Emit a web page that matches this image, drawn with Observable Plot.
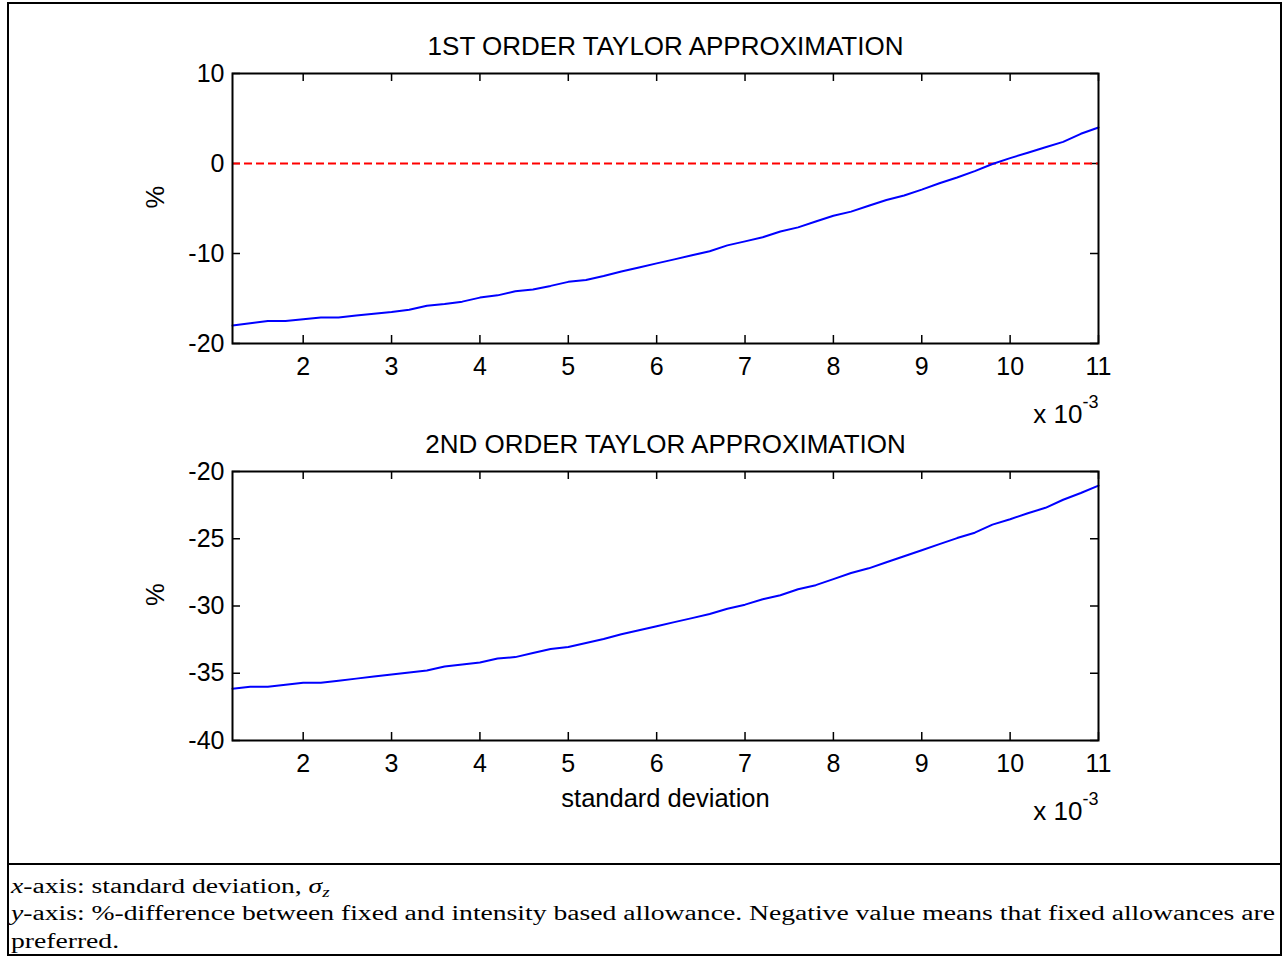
<!DOCTYPE html>
<html>
<head>
<meta charset="utf-8">
<script src="https://cdn.jsdelivr.net/npm/d3@7"></script>
<script src="https://cdn.jsdelivr.net/npm/@observablehq/plot@0.6"></script>
<style>
  body { margin: 0; background: #fff; }
  #page { position: relative; width: 1283px; height: 957px; overflow: hidden; background: #fff; }
  #border { position: absolute; left: 7px; top: 2px; width: 1275px; height: 954px; box-sizing: border-box; border: 2px solid #000; }
  #sep { position: absolute; left: 7px; top: 862.5px; width: 1275px; height: 2.5px; background: #000; }
  .panel { position: absolute; left: 0; }
  #caption { position: absolute; left: 10.5px; top: 872.5px; font-family: "Liberation Serif", "Times New Roman", serif; font-size: 20.5px; line-height: 27.5px; color: #000; transform-origin: 0 0; white-space: nowrap; }
  #caption i { font-style: italic; }
  #caption sub { font-size: 14px; vertical-align: -4px; line-height: 0; }
</style>
</head>
<body>
<div id="page">
  <div id="border"></div>
  <div id="sep"></div>
  <div id="top" class="panel" style="top:0px"></div>
  <div id="bottom" class="panel" style="top:430px"></div>
  <div id="caption">
    <div id="cap1"><i>x</i>-axis: standard deviation, <i>σ</i><sub><i>z</i></sub></div>
    <div id="cap2"><i>y</i>-axis: %-difference between fixed and intensity based allowance. Negative value means that fixed allowances are</div>
    <div id="cap3">preferred.</div>
  </div>
</div>
<script>
// standard deviation (x 10^-3)
const sigma = [1.2, 1.4, 1.6, 1.8, 2.0, 2.2, 2.4, 2.6, 2.8, 3.0,
               3.2, 3.4, 3.6, 3.8, 4.0, 4.2, 4.4, 4.6, 4.8, 5.0,
               5.2, 5.4, 5.6, 5.8, 6.0, 6.2, 6.4, 6.6, 6.8, 7.0,
               7.2, 7.4, 7.6, 7.8, 8.0, 8.2, 8.4, 8.6, 8.8, 9.0,
               9.2, 9.4, 9.6, 9.8, 10.0, 10.2, 10.4, 10.6, 10.8, 11.0];
// 1st order Taylor approximation, %
const firstOrder = [-18.0, -17.75, -17.5, -17.5, -17.3, -17.1, -17.1, -16.9, -16.7, -16.5,
                    -16.25, -15.8, -15.6, -15.35, -14.9, -14.65, -14.2, -14.0, -13.6, -13.15,
                    -12.95, -12.5, -12.0, -11.55, -11.1, -10.65, -10.2, -9.75, -9.1, -8.65,
                    -8.2, -7.55, -7.1, -6.45, -5.8, -5.35, -4.7, -4.05, -3.55, -2.9,
                    -2.2, -1.55, -0.85, -0.05, 0.6, 1.2, 1.8, 2.4, 3.3, 4.0];
// 2nd order Taylor approximation, %
const secondOrder = [-36.15, -36.0, -36.0, -35.85, -35.7, -35.7, -35.55, -35.4, -35.25, -35.1,
                     -34.95, -34.8, -34.5, -34.35, -34.2, -33.9, -33.8, -33.5, -33.2, -33.05,
                     -32.75, -32.45, -32.1, -31.8, -31.5, -31.2, -30.9, -30.6, -30.2, -29.9,
                     -29.5, -29.2, -28.75, -28.45, -28.0, -27.55, -27.2, -26.75, -26.3, -25.85,
                     -25.4, -24.95, -24.55, -23.95, -23.55, -23.1, -22.7, -22.1, -21.6, -21.05];
const xTicks = [2, 3, 4, 5, 6, 7, 8, 9, 10, 11];
const yTicksTop = [-20, -10, 0, 10];
const yTicksBottom = [-40, -35, -30, -25, -20];
const titles = ["1ST ORDER TAYLOR APPROXIMATION", "2ND ORDER TAYLOR APPROXIMATION"];
const yLabel = "%";
const xLabel = "standard deviation";
const exponentBase = "x 10";
const exponent = "-3";

const W = 1283, mL = 232, mR = 1283 - 1098;
const innerW = W - mL - mR;
const fontFamily = "'Liberation Sans', Arial, Helvetica, sans-serif";

function panel({values, yDomain, yTicks, title, zeroLine, withXLabel, height, marginTop, innerH}) {
  const data = sigma.map((x, i) => ({x, y: values[i]}));
  const marginBottom = height - marginTop - innerH;
  const marks = [
    Plot.axisX({ticks: xTicks, tickSize: 0, tickPadding: 14, tickFormat: d => String(d), label: null}),
    Plot.axisY({ticks: yTicks, tickSize: 0, tickPadding: 8, tickFormat: d => String(d), label: null}),
    Plot.ruleX(xTicks, {insetTop: innerH - 8, stroke: "#000", strokeWidth: 1.5}),
    Plot.ruleX(xTicks, {insetBottom: innerH - 8, stroke: "#000", strokeWidth: 1.5}),
    Plot.ruleY(yTicks, {insetRight: innerW - 8, stroke: "#000", strokeWidth: 1.5}),
    Plot.ruleY(yTicks, {insetLeft: innerW - 8, stroke: "#000", strokeWidth: 1.5})
  ];
  if (zeroLine) marks.push(Plot.ruleY([0], {stroke: "#ff0000", strokeWidth: 1.8, strokeDasharray: "8,4"}));
  marks.push(
    Plot.line(data, {x: "x", y: "y", stroke: "#0000ff", strokeWidth: 2}),
    Plot.frame({stroke: "#000", strokeWidth: 2}),
    Plot.text([title], {text: d => d, frameAnchor: "top", lineAnchor: "bottom", dy: -19, fontSize: 26}),
    Plot.text([exponentBase], {text: d => d, frameAnchor: "bottom-right", textAnchor: "end", lineAnchor: "bottom", dx: -16, dy: 79, fontSize: 26}),
    Plot.text([exponent], {text: d => d, frameAnchor: "bottom-right", textAnchor: "start", lineAnchor: "bottom", dx: -16, dy: 64, fontSize: 18}),
    Plot.text([yLabel], {text: d => d, frameAnchor: "left", rotate: -90, dx: -77, fontSize: 25.5})
  );
  if (withXLabel) marks.push(Plot.text([xLabel], {text: d => d, frameAnchor: "bottom", lineAnchor: "bottom", dy: 66, fontSize: 25.5}));
  return Plot.plot({
    width: W, height, marginLeft: mL, marginRight: mR, marginTop, marginBottom,
    x: {domain: [1.2, 11]},
    y: {domain: yDomain},
    style: {fontFamily, fontSize: "25px", color: "#000", background: "transparent", overflow: "visible"},
    marks
  });
}

document.getElementById("top").appendChild(panel({
  values: firstOrder, yDomain: [-20, 10], yTicks: yTicksTop, title: titles[0],
  zeroLine: true, withXLabel: false, height: 430, marginTop: 73, innerH: 270
}));
document.getElementById("bottom").appendChild(panel({
  values: secondOrder, yDomain: [-40, -20], yTicks: yTicksBottom, title: titles[1],
  zeroLine: false, withXLabel: true, height: 410, marginTop: 41, innerH: 269
}));

// horizontally stretched caption so that the second line spans the box width
const cap = document.getElementById("caption");
const w2 = document.getElementById("cap2").getBoundingClientRect().width;
const s = 1264 / w2;
cap.style.transform = `scaleX(${s})`;
</script>
</body>
</html>
